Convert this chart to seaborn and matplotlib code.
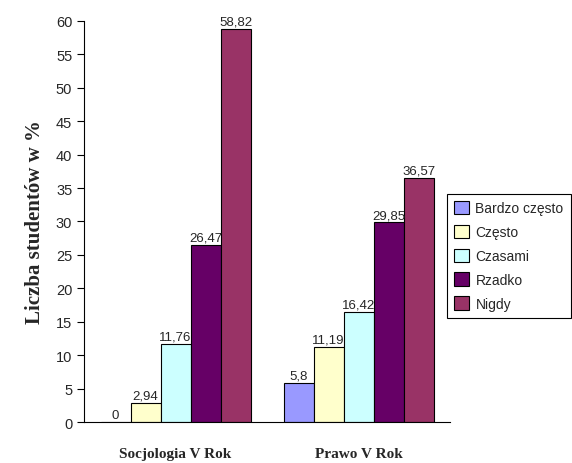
import pandas as pd
import matplotlib
matplotlib.use("Agg")
import matplotlib.pyplot as plt
import seaborn as sns

# data
groups = ["Socjologia V Rok", "Prawo V Rok"]
answers = ["Bardzo często", "Często", "Czasami", "Rzadko", "Nigdy"]
socjologia = [0, 2.94, 11.76, 26.47, 58.82]
prawo = [5.8, 11.19, 16.42, 29.85, 36.57]
colors = ["#9999FF", "#FFFFCC", "#CCFFFF", "#660066", "#993366"]

df = pd.DataFrame({
    "grupa": [groups[0]] * 5 + [groups[1]] * 5,
    "odp": answers * 2,
    "proc": socjologia + prawo,
})

sns.set_style("white")
plt.rcParams["font.family"] = ["Liberation Sans", "DejaVu Sans"]

fig = plt.figure(figsize=(5.72, 4.64), dpi=100)
ax = fig.add_axes([0.147, 0.088, 0.64, 0.865])

sns.barplot(data=df, x="grupa", y="proc", hue="odp", hue_order=answers,
            palette=colors, width=0.82, edgecolor="black", linewidth=0.8,
            saturation=1, ax=ax, legend=True)

for cont in ax.containers:
    ax.bar_label(cont, labels=[f"{v:g}".replace(".", ",") for v in cont.datavalues],
                 padding=1, fontsize=9.5)

ax.set_ylim(0, 60)
ax.set_yticks(range(0, 61, 5))
ax.set_xlim(-0.5, 1.5)
ax.set_xticks([0, 1])
ax.set_xticklabels(groups, fontfamily="Liberation Serif", fontweight="bold", fontsize=11)
ax.set_xticks([-0.5, 0.5, 1.5], minor=True)
ax.tick_params(axis="x", which="major", length=0, pad=18)
ax.tick_params(axis="x", which="minor", length=6, width=0.8, color="black", direction="out")
ax.tick_params(axis="y", length=5, width=0.8, color="black", direction="out", labelsize=10.5, left=True)
ax.set_xlabel("")
ax.set_ylabel("Liczba studentów w %", fontfamily="Liberation Serif", fontweight="bold", fontsize=15, labelpad=8)

sns.despine(ax=ax)
for s in ["left", "bottom"]:
    ax.spines[s].set_color("black")
    ax.spines[s].set_linewidth(0.8)

leg = ax.legend(loc="upper left", bbox_to_anchor=(447 / 572, 1 - 195 / 464),
                bbox_transform=fig.transFigure, fontsize=10, fancybox=False,
                edgecolor="black", framealpha=1, borderpad=0.5, handlelength=1.1,
                handleheight=1.1, handletextpad=0.45, labelspacing=0.68, borderaxespad=0)
leg.get_frame().set_linewidth(0.8)

fig.savefig("out.png", dpi=100)
